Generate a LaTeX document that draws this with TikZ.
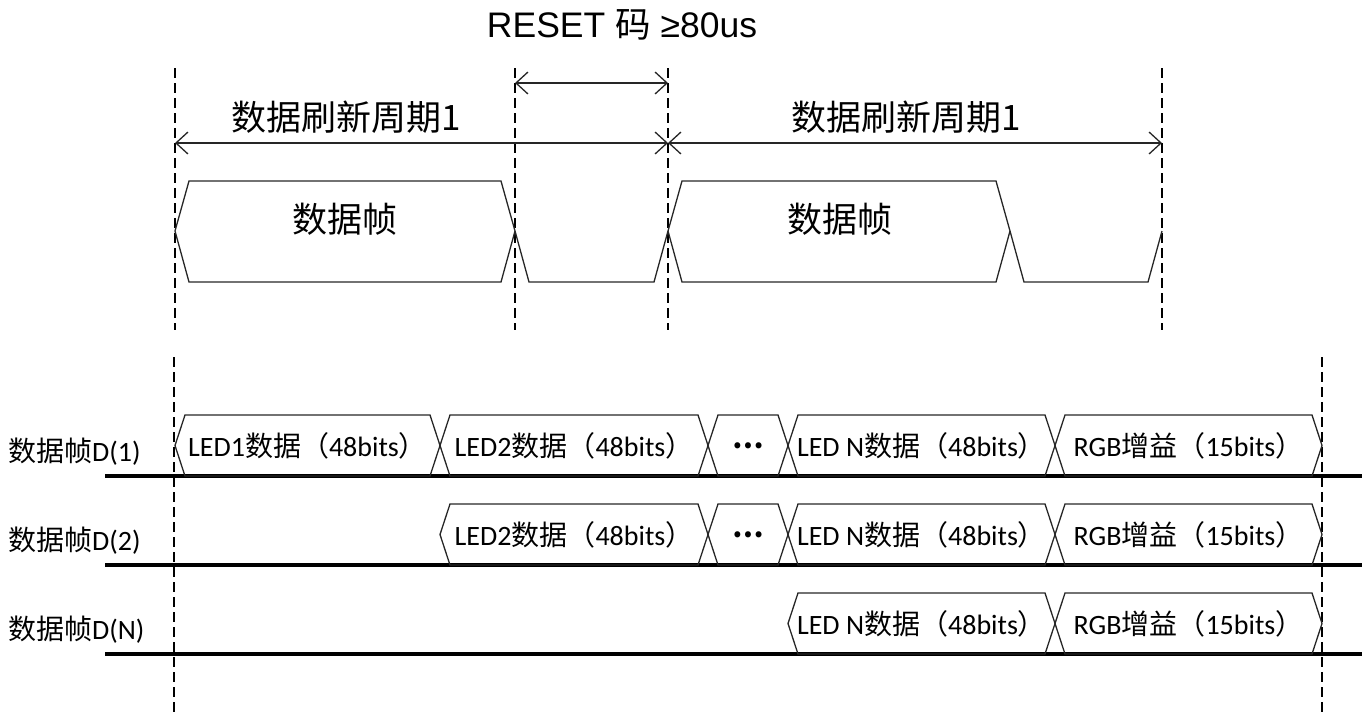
\documentclass[tikz,border=0pt]{standalone}
\usepackage{fontspec}
\setmainfont{Carlito}
\newfontfamily\cjk{Noto Sans CJK SC}
\newfontfamily\arialf{Liberation Sans}
\usetikzlibrary{arrows.meta}
\newcommand\segbox[7]{%
  \draw[thinline] (#1,{(#3+#4)/2}) -- ({#1+#5},#3) -- ({#2-#5},#3) -- (#2,{(#3+#4)/2}) -- ({#2-#5},#4) -- ({#1+#5},#4) -- cycle;
  \node[rowtxt] (#7) at ({(#1+#2)/2},{(#3+#4)/2}) {#6};
}
\newcommand\ledtxt[1]{LED#1{\cjk 数据（}48bits{\cjk ）}}
\newcommand\rgbtxt{RGB{\cjk 增益（}15bits{\cjk ）}}
\begin{document}
\begin{tikzpicture}[x=1pt,y=-1pt,
  >={Straight Barb[length=12pt,width=22pt]},
  thinline/.style={line width=1.3pt, draw=black!85},
  dashv/.style={line width=2.8pt, dash pattern=on 10pt off 5pt},
  bus/.style={line width=4pt},
  rowtxt/.style={inner sep=0pt, font=\fontsize{28}{32}\selectfont},
  rowlbl/.style={inner sep=0pt, anchor=west, font=\fontsize{28}{32}\selectfont},
  toptxt/.style={inner sep=0pt, font=\fontsize{35}{40}\selectfont\cjk},
  resettxt/.style={inner sep=0pt, font=\fontsize{35.5}{40}\selectfont\arialf}]
\useasboundingbox (0,0) rectangle (1368,713);

% title
\node[resettxt] (reset) at (622,25) {RESET {\cjk 码} ≥80us};

% dashed vertical lines (top)
\foreach \n/\x in {1/175,2/515,3/668,4/1162}{
  \coordinate (dt\n) at (\x,68);
  \coordinate (db\n) at (\x,330);
  \draw[dashv] (dt\n) -- (db\n);
}
% dashed vertical lines (bottom)
\coordinate (lt1) at (174,357); \coordinate (lb1) at (174,713);
\coordinate (lt2) at (1322,357); \coordinate (lb2) at (1322,713);
\draw[dashv] (lt1) -- (lb1);
\draw[dashv] (lt2) -- (lb2);

% reset arrow
\coordinate (ra) at (515,83); \coordinate (rb) at (668,83);
\draw[thinline, <->] (ra) -- (rb);

% period arrows
\coordinate (pa) at (175,143); \coordinate (pm) at (668,143); \coordinate (pb) at (1162,143);
\draw[thinline, <->] (pa) -- (pm);
\draw[thinline, <->] (pm) -- (pb);
\node[toptxt] (per1) at (346,117) {数据刷新周期1};
\node[toptxt] (per2) at (906,117) {数据刷新周期1};

% top frames
\draw[thinline] (175,231) -- (189,181) -- (501,181) -- (515,231) -- (501,282) -- (189,282) -- cycle;
\draw[thinline] (515,231) -- (529,282) -- (654,282) -- (668,231);
\draw[thinline] (668,231) -- (682,181) -- (996,181) -- (1010,231) -- (996,282) -- (682,282) -- cycle;
\draw[thinline] (1010,231) -- (1024,282) -- (1148,282) -- (1162,231);
\node[toptxt] (fr1) at (345,219) {数据帧};
\node[toptxt] (fr2) at (840,219) {数据帧};

% bus lines
\foreach \n/\y in {1/476,2/565,3/654}{
  \coordinate (bs\n) at (105,\y); \coordinate (be\n) at (1362,\y);
  \draw[bus] (bs\n) -- (be\n);
}

% row labels
\node[rowlbl] (lab1) at (8,452) {{\cjk 数据帧}D(1)};
\node[rowlbl] (lab2) at (8,541) {{\cjk 数据帧}D(2)};
\node[rowlbl] (lab3) at (8,630) {{\cjk 数据帧}D(N)};

% row 1
\segbox{175}{440}{415}{476}{10}{\ledtxt{1}}{r1a}
\segbox{440}{708}{415}{476}{10}{\ledtxt{2}}{r1b}
\segbox{708}{788}{415}{476}{10}{{\bfseries\cjk …}}{r1c}
\segbox{788}{1055}{415}{476}{10}{\ledtxt{ N}}{r1d}
\segbox{1055}{1322}{415}{476}{10}{\rgbtxt}{r1e}
% row 2
\segbox{440}{708}{504}{565}{10}{\ledtxt{2}}{r2b}
\segbox{708}{788}{504}{565}{10}{{\bfseries\cjk …}}{r2c}
\segbox{788}{1055}{504}{565}{10}{\ledtxt{ N}}{r2d}
\segbox{1055}{1322}{504}{565}{10}{\rgbtxt}{r2e}
% row 3
\segbox{788}{1055}{593}{654}{10}{\ledtxt{ N}}{r3d}
\segbox{1055}{1322}{593}{654}{10}{\rgbtxt}{r3e}
\end{tikzpicture}
\end{document}
